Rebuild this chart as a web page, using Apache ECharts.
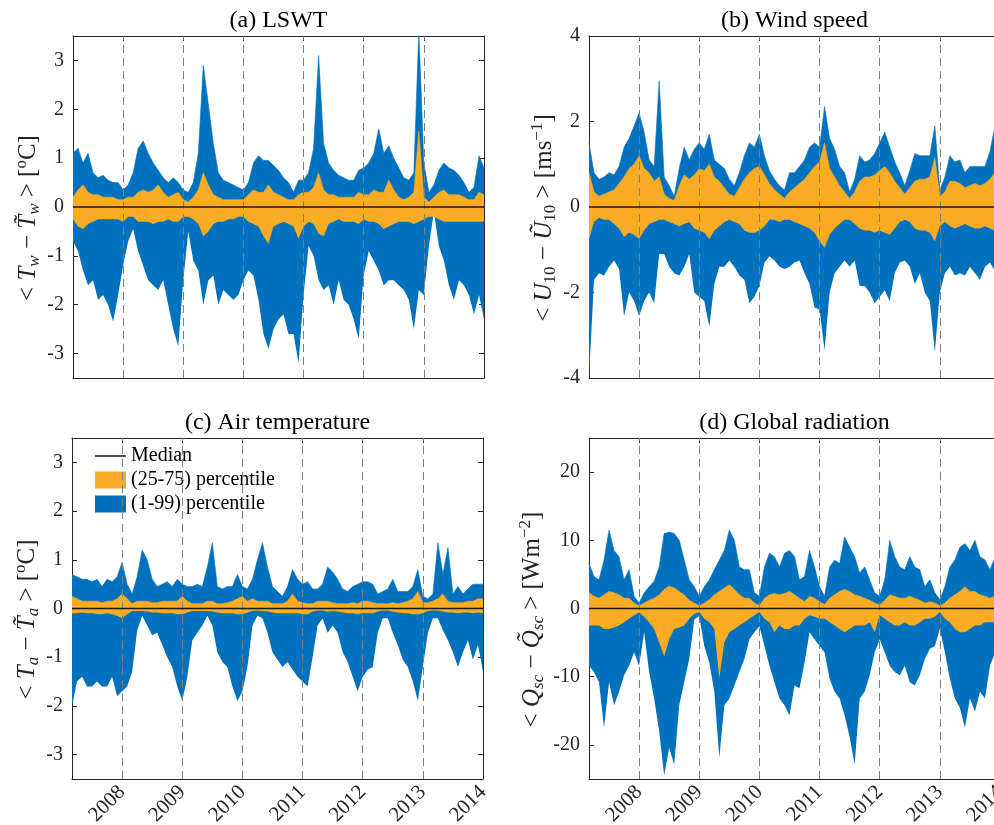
<!DOCTYPE html>
<html>
<head>
<meta charset="utf-8">
<script src="https://cdn.jsdelivr.net/npm/echarts@6/dist/echarts.min.js"></script>
<style>
body { margin: 0; background: #fff; }
#main { width: 994px; height: 825px; }
</style>
</head>
<body>
<div id="main"></div>
<script>
'use strict'
// monthly envelope of the percentile bands

var months = [
    '2007-03', '2007-04', '2007-05', '2007-06', '2007-07', '2007-08', '2007-09', '2007-10', '2007-11', '2007-12',
    '2008-01', '2008-02', '2008-03', '2008-04', '2008-05', '2008-06', '2008-07', '2008-08', '2008-09', '2008-10', '2008-11', '2008-12',
    '2009-01', '2009-02', '2009-03', '2009-04', '2009-05', '2009-06', '2009-07', '2009-08', '2009-09', '2009-10', '2009-11', '2009-12',
    '2010-01', '2010-02', '2010-03', '2010-04', '2010-05', '2010-06', '2010-07', '2010-08', '2010-09', '2010-10', '2010-11', '2010-12',
    '2011-01', '2011-02', '2011-03', '2011-04', '2011-05', '2011-06', '2011-07', '2011-08', '2011-09', '2011-10', '2011-11', '2011-12',
    '2012-01', '2012-02', '2012-03', '2012-04', '2012-05', '2012-06', '2012-07', '2012-08', '2012-09', '2012-10', '2012-11', '2012-12',
    '2013-01', '2013-02', '2013-03', '2013-04', '2013-05', '2013-06', '2013-07', '2013-08', '2013-09', '2013-10', '2013-11', '2013-12',
    '2014-01'
];
var yearLines = ['2008-01', '2009-01', '2010-01', '2011-01', '2012-01', '2013-01'];
var median = 0;

// (a) LSWT
var lswtP99 = [1.1, 1.2, 0.9, 1.1, 0.7, 0.6, 0.65, 0.55, 0.5, 0.5,
    0.35, 0.45, 0.7, 1.2, 1.35, 1.1, 0.9, 0.75, 0.6, 0.5,
    0.6, 0.5, 0.35, 0.3, 0.5, 1.1, 2.9, 2.1, 1.3, 0.7,
    0.55, 0.5, 0.45, 0.4, 0.35, 0.5, 0.9, 1.05, 0.95, 0.95,
    0.85, 0.75, 0.6, 0.5, 0.3, 0.55, 0.55, 0.7, 1.2, 3.1,
    1.3, 0.9, 0.75, 0.65, 0.6, 0.55, 0.55, 0.75, 0.8, 0.9,
    1.1, 1.6, 1.1, 1.25, 1.0, 0.8, 0.6, 0.55, 0.7, 3.6,
    0.9, 0.3, 0.45, 0.75, 0.9, 0.8, 0.75, 0.65, 0.5, 0.3,
    0.4, 1.05, 0.8];
var lswtP1 = [-0.7, -0.9, -1.3, -1.6, -1.5, -1.9, -1.8, -2.0, -2.35, -1.8,
    -1.2, -0.7, -0.45, -0.9, -1.2, -1.5, -1.6, -1.7, -1.5, -2.0,
    -2.5, -2.85, -1.5, -0.5, -1.1, -1.3, -2.0, -1.5, -1.4, -2.0,
    -1.7, -1.8, -1.9, -1.8, -1.5, -1.3, -1.4, -1.9, -2.6, -2.9,
    -2.5, -2.3, -2.2, -2.6, -2.6, -3.2, -1.8, -0.8, -1.0, -1.5,
    -1.7, -1.6, -2.0, -1.5, -1.9, -2.0, -2.3, -2.7, -1.4, -0.9,
    -1.1, -1.3, -1.6, -1.5, -1.5, -1.6, -1.7, -1.9, -2.5, -1.7,
    -1.8, -0.8, -0.1, -0.8, -1.1, -1.6, -1.9, -1.5, -1.6, -1.8,
    -2.2, -1.8, -2.3];
var lswtP75 = [0.2, 0.35, 0.45, 0.3, 0.25, 0.25, 0.2, 0.2, 0.2, 0.15,
    0.15, 0.2, 0.2, 0.3, 0.35, 0.3, 0.35, 0.45, 0.3, 0.2,
    0.25, 0.3, 0.15, 0.1, 0.2, 0.35, 0.7, 0.45, 0.25, 0.2,
    0.15, 0.15, 0.15, 0.15, 0.15, 0.25, 0.35, 0.3, 0.3, 0.45,
    0.3, 0.25, 0.2, 0.15, 0.15, 0.25, 0.3, 0.3, 0.4, 0.7,
    0.35, 0.25, 0.25, 0.2, 0.2, 0.2, 0.2, 0.3, 0.25, 0.25,
    0.35, 0.3, 0.3, 0.55, 0.35, 0.2, 0.15, 0.2, 0.3, 1.55,
    0.2, 0.1, 0.2, 0.3, 0.35, 0.25, 0.25, 0.25, 0.2, 0.15,
    0.15, 0.3, 0.25];
var lswtP25 = [-0.25, -0.4, -0.45, -0.35, -0.3, -0.25, -0.25, -0.25, -0.25, -0.25,
    -0.3, -0.2, -0.2, -0.3, -0.3, -0.3, -0.35, -0.3, -0.3, -0.25,
    -0.3, -0.3, -0.2, -0.2, -0.25, -0.35, -0.6, -0.5, -0.35, -0.3,
    -0.3, -0.25, -0.25, -0.2, -0.2, -0.3, -0.35, -0.4, -0.6, -0.75,
    -0.4, -0.35, -0.3, -0.35, -0.4, -0.65, -0.4, -0.3, -0.35, -0.55,
    -0.6, -0.35, -0.3, -0.25, -0.3, -0.3, -0.3, -0.35, -0.25, -0.3,
    -0.3, -0.35, -0.45, -0.4, -0.35, -0.3, -0.3, -0.3, -0.35, -0.3,
    -0.25, -0.2, -0.2, -0.25, -0.3, -0.3, -0.3, -0.3, -0.3, -0.3,
    -0.3, -0.3, -0.3];

// (b) wind speed
var windP99 = [1.5, 0.8, 0.65, 0.7, 0.8, 0.75, 0.95, 1.4, 1.6, 1.9,
    2.2, 1.75, 1.1, 0.95, 2.95, 0.7, 0.5, 0.25, 0.9, 1.4,
    1.1, 1.35, 1.5, 1.35, 1.7, 1.1, 1.0, 0.9, 0.65, 0.5,
    0.8, 1.2, 1.5, 1.4, 1.7, 1.2, 0.85, 0.65, 0.5, 0.4,
    0.8, 0.8, 0.95, 1.1, 1.4, 1.5, 1.4, 2.35, 1.6, 1.35,
    0.95, 0.8, 0.35, 0.65, 1.2, 1.05, 1.1, 1.25, 1.5, 1.75,
    1.4, 1.05, 0.8, 0.5, 0.85, 1.25, 1.2, 1.2, 1.2, 1.9,
    0.4, 0.7, 1.2, 1.05, 1.1, 0.8, 0.95, 0.95, 0.95, 0.95,
    1.3, 1.9, 1.2];
var windP1 = [-4.0, -1.7, -1.55, -1.6, -1.4, -1.25, -1.45, -2.55, -2.0, -2.2,
    -2.55, -2.2, -2.0, -2.25, -1.1, -1.1, -1.4, -1.55, -1.6, -1.4,
    -1.1, -2.0, -2.1, -2.2, -2.8, -1.8, -1.4, -1.4, -1.25, -1.4,
    -1.6, -1.7, -2.25, -2.1, -1.85, -1.3, -1.15, -1.25, -1.4, -1.45,
    -1.4, -1.3, -1.25, -1.55, -1.8, -2.35, -2.4, -3.35, -2.0, -1.55,
    -1.4, -1.25, -1.4, -1.25, -1.85, -1.85, -2.0, -2.25, -2.1, -1.95,
    -2.2, -1.55, -1.3, -1.25, -1.4, -1.8, -1.55, -2.0, -2.2, -3.4,
    -2.0, -1.55, -1.4, -1.6, -1.55, -1.6, -1.4, -1.55, -1.7, -1.4,
    -1.3, -1.5, -1.4];
var windP75 = [0.8, 0.35, 0.25, 0.3, 0.35, 0.4, 0.55, 0.7, 0.9, 1.0,
    1.2, 0.9, 0.8, 0.6, 0.7, 0.3, 0.2, 0.15, 0.5, 0.75,
    0.65, 0.75, 0.9, 0.85, 1.0, 0.7, 0.6, 0.45, 0.3, 0.25,
    0.45, 0.65, 0.8, 0.9, 0.95, 0.75, 0.55, 0.4, 0.3, 0.2,
    0.35, 0.45, 0.55, 0.65, 0.8, 0.95, 1.05, 1.5, 0.9, 0.7,
    0.5, 0.35, 0.2, 0.35, 0.6, 0.7, 0.7, 0.75, 0.85, 0.95,
    0.8, 0.6, 0.45, 0.3, 0.45, 0.6, 0.65, 0.65, 0.7, 1.15,
    0.25, 0.35, 0.6, 0.6, 0.55, 0.45, 0.5, 0.55, 0.5, 0.55,
    0.65, 0.8, 0.65];
var windP25 = [-0.75, -0.35, -0.25, -0.3, -0.3, -0.4, -0.5, -0.7, -0.6, -0.65,
    -0.75, -0.55, -0.4, -0.35, -0.3, -0.3, -0.35, -0.4, -0.45, -0.4,
    -0.35, -0.5, -0.55, -0.6, -0.75, -0.55, -0.45, -0.35, -0.3, -0.35,
    -0.4, -0.55, -0.6, -0.6, -0.55, -0.45, -0.3, -0.3, -0.35, -0.3,
    -0.3, -0.35, -0.4, -0.45, -0.5, -0.6, -0.8, -0.95, -0.65, -0.5,
    -0.4, -0.3, -0.3, -0.4, -0.5, -0.55, -0.55, -0.6, -0.55, -0.6,
    -0.65, -0.5, -0.35, -0.3, -0.35, -0.5, -0.55, -0.55, -0.6, -0.8,
    -0.45, -0.35, -0.45, -0.5, -0.45, -0.4, -0.45, -0.5, -0.5, -0.45,
    -0.5, -0.55, -0.5];

// (c) air temperature
var airP99 = [0.7, 0.65, 0.6, 0.6, 0.55, 0.6, 0.45, 0.6, 0.55, 0.65,
    0.95, 0.5, 0.3, 0.65, 1.2, 1.0, 0.6, 0.45, 0.5, 0.55,
    0.45, 0.6, 0.5, 0.45, 0.45, 0.5, 0.45, 0.85, 1.35, 0.45,
    0.4, 0.45, 0.45, 0.7, 0.45, 0.4, 0.6, 1.0, 1.35, 0.85,
    0.45, 0.35, 0.25, 0.45, 0.8, 0.6, 0.5, 0.55, 0.4, 0.4,
    0.5, 0.85, 0.75, 0.6, 0.4, 0.35, 0.45, 0.5, 0.55, 0.55,
    0.5, 0.3, 0.35, 0.4, 0.6, 0.35, 0.35, 0.35, 0.45, 0.8,
    0.25, 0.2, 0.3, 1.35, 0.7, 1.25, 0.3, 0.45, 0.3, 0.4,
    0.5, 0.5, 0.5];
var airP1 = [-2.0, -1.5, -1.4, -1.6, -1.6, -1.5, -1.6, -1.6, -1.4, -1.8,
    -1.7, -1.6, -1.3, -0.45, -0.15, -0.35, -0.55, -0.5, -0.75, -1.0,
    -1.2, -1.6, -1.9, -1.4, -0.65, -0.5, -0.35, -0.15, -0.35, -0.9,
    -1.1, -1.2, -1.6, -1.9, -1.7, -1.2, -0.35, -0.15, -0.2, -0.5,
    -0.9, -1.05, -1.2, -1.1, -1.25, -1.4, -1.5, -1.6, -1.0, -0.35,
    -0.2, -0.5, -0.35, -0.5, -0.9, -1.1, -1.4, -1.7, -1.4, -1.25,
    -1.2, -0.5, -0.2, -0.2, -0.5, -0.75, -1.05, -1.2, -1.5, -1.9,
    -1.2, -0.5, -0.2, -0.2, -0.45, -0.65, -0.9, -1.2, -0.9, -0.65,
    -1.05, -0.75, -1.3];
var airP75 = [0.25, 0.2, 0.15, 0.15, 0.15, 0.15, 0.12, 0.15, 0.15, 0.2,
    0.3, 0.2, 0.1, 0.15, 0.15, 0.15, 0.12, 0.12, 0.15, 0.15,
    0.15, 0.15, 0.25, 0.15, 0.1, 0.1, 0.1, 0.15, 0.15, 0.1,
    0.1, 0.12, 0.15, 0.2, 0.25, 0.15, 0.2, 0.15, 0.15, 0.15,
    0.1, 0.1, 0.1, 0.15, 0.3, 0.15, 0.12, 0.1, 0.1, 0.15,
    0.15, 0.15, 0.12, 0.1, 0.1, 0.1, 0.12, 0.1, 0.15, 0.15,
    0.12, 0.1, 0.1, 0.1, 0.12, 0.1, 0.12, 0.15, 0.2, 0.35,
    0.12, 0.12, 0.15, 0.2, 0.3, 0.15, 0.12, 0.12, 0.12, 0.15,
    0.15, 0.2, 0.2];
var airP25 = [-0.1, -0.1, -0.08, -0.1, -0.1, -0.12, -0.12, -0.1, -0.12, -0.15,
    -0.2, -0.12, -0.05, -0.05, -0.05, -0.06, -0.08, -0.08, -0.1, -0.1,
    -0.1, -0.12, -0.12, -0.08, -0.05, -0.05, -0.05, -0.05, -0.06, -0.08,
    -0.1, -0.1, -0.1, -0.12, -0.12, -0.08, -0.05, -0.04, -0.05, -0.06,
    -0.08, -0.1, -0.1, -0.1, -0.1, -0.1, -0.12, -0.12, -0.06, -0.04,
    -0.04, -0.06, -0.05, -0.06, -0.08, -0.1, -0.1, -0.12, -0.1, -0.1,
    -0.1, -0.06, -0.04, -0.04, -0.06, -0.08, -0.1, -0.1, -0.12, -0.12,
    -0.1, -0.05, -0.04, -0.04, -0.06, -0.08, -0.08, -0.1, -0.08, -0.08,
    -0.1, -0.08, -0.1];

// (d) global radiation
var radP99 = [6.6, 4.7, 4.2, 7.1, 11.5, 8.5, 7.6, 4.2, 5.7, 1.8,
    0.8, 2.3, 3.2, 4.0, 6.1, 11.0, 11.2, 11.0, 10.0, 7.1,
    4.2, 3.2, 1.8, 3.2, 4.2, 5.7, 7.1, 8.5, 11.5, 10.0,
    6.1, 5.7, 5.7, 2.3, 1.8, 6.1, 8.1, 7.6, 6.1, 8.1,
    8.5, 7.6, 4.2, 4.7, 8.5, 6.1, 3.2, 1.8, 6.1, 7.1,
    6.6, 10.5, 9.0, 7.6, 5.2, 6.1, 4.2, 2.3, 1.8, 4.2,
    10.0, 7.6, 6.1, 5.7, 7.6, 6.1, 5.7, 3.2, 4.2, 2.3,
    1.3, 3.2, 6.1, 7.1, 9.0, 9.5, 8.5, 10.0, 7.6, 7.1,
    5.7, 7.5, 5.5];
var radP1 = [-8.4, -9.3, -10.8, -17.5, -10.8, -14.2, -12.2, -9.8, -8.4, -6.4,
    -8.4, -3.5, -9.3, -13.2, -18.0, -24.5, -20.4, -22.9, -14.2, -10.8,
    -7.4, -1.6, -1.1, -5.5, -7.9, -12.2, -21.9, -14.2, -13.2, -11.3,
    -9.3, -7.4, -4.5, -3.5, -2.6, -5.5, -8.4, -10.8, -13.2, -14.2,
    -15.7, -11.3, -11.7, -7.9, -3.5, -4.5, -5.5, -6.4, -10.3, -12.2,
    -13.2, -15.7, -18.8, -22.9, -13.2, -12.2, -9.8, -6.4, -4.5, -6.4,
    -8.4, -9.3, -9.8, -8.4, -10.8, -11.3, -9.8, -7.4, -5.9, -5.5,
    -3.0, -6.4, -10.3, -13.2, -14.6, -17.5, -13.2, -15.1, -12.2, -13.2,
    -8.4, -6.5, -5.5];
var radP75 = [2.3, 1.8, 1.5, 2.0, 2.5, 2.3, 2.0, 1.5, 1.5, 0.8,
    0.4, 0.8, 1.2, 1.5, 2.0, 2.8, 3.3, 3.0, 2.5, 2.0,
    1.2, 0.8, 0.4, 0.8, 1.3, 2.0, 2.5, 3.0, 3.5, 2.8,
    2.0, 1.5, 1.5, 0.8, 0.4, 1.5, 2.0, 2.2, 2.0, 2.2,
    2.5, 2.0, 1.5, 1.0, 1.8, 1.5, 1.0, 0.6, 1.5, 2.0,
    2.5, 2.8, 2.5, 2.0, 1.8, 1.5, 1.2, 0.8, 0.5, 1.2,
    2.0, 1.8, 1.5, 1.5, 1.8, 1.5, 1.2, 0.8, 1.0, 0.8,
    0.4, 0.8, 1.5, 2.0, 2.5, 3.2, 2.5, 2.5, 2.0, 1.8,
    1.5, 1.8, 1.5];
var radP25 = [-2.5, -2.5, -2.5, -3.0, -3.0, -2.8, -2.5, -2.0, -1.5, -1.0,
    -0.6, -1.2, -2.0, -3.0, -5.0, -7.0, -4.5, -3.0, -2.8, -2.5,
    -1.5, -0.8, -0.5, -1.5, -2.0, -3.0, -10.2, -5.0, -3.5, -3.0,
    -2.5, -2.0, -1.5, -1.0, -0.5, -1.5, -2.0, -3.5, -2.5, -3.0,
    -3.0, -2.5, -2.5, -1.5, -1.0, -1.2, -1.5, -1.5, -2.0, -2.5,
    -3.0, -3.5, -3.0, -2.5, -2.5, -2.5, -2.0, -3.5, -1.0, -1.5,
    -2.0, -2.5, -2.5, -2.0, -2.5, -2.5, -2.0, -1.5, -1.5, -1.2,
    -0.5, -1.5, -2.0, -3.0, -3.5, -3.5, -3.0, -2.5, -2.5, -2.0,
    -2.0, -2.0, -2.0];

var blue = '#0072BD';
var orange = '#F9AC24';
var axisColor = '#262626';
var font = '"Liberation Serif", "Times New Roman", serif';

// only January gets a tick and a year label
function isJanuary(index, value) {
    return value.slice(5) === '01';
}

var rich = {
    t: { fontFamily: font, fontSize: 25, color: axisColor, lineHeight: 30 },
    i: { fontFamily: font, fontSize: 25, fontStyle: 'italic', color: axisColor, lineHeight: 30 },
    s: { fontFamily: font, fontSize: 17, fontStyle: 'italic', color: axisColor, verticalAlign: 'bottom', lineHeight: 21 },
    n: { fontFamily: font, fontSize: 17, color: axisColor, verticalAlign: 'bottom', lineHeight: 21 },
    p: { fontFamily: font, fontSize: 17, color: axisColor, verticalAlign: 'top', lineHeight: 19 }
};

var panels = [
    { title: '(a) LSWT', p1: lswtP1, p25: lswtP25, p75: lswtP75, p99: lswtP99,
      name: '{t|< }{i|T}{s|w}{t| \u2212 }{i|T\u0303}{s|w}{t| > [}{p|o}{t|C]}',
      min: -3.5, max: 3.5, ticks: [-3, -2, -1, 0, 1, 2, 3],
      left: 73, top: 36, height: 342, nameGap: 29, labels: false },
    { title: '(b) Wind speed', p1: windP1, p25: windP25, p75: windP75, p99: windP99,
      name: '{t|< }{i|U}{n|10}{t| \u2212 }{i|U\u0303}{n|10}{t| > [ms}{p|\u22121}{t|]}',
      min: -4, max: 4, ticks: [-4, -2, 0, 2, 4],
      left: 589, top: 36, height: 342, nameGap: 29, labels: false },
    { title: '(c) Air temperature', p1: airP1, p25: airP25, p75: airP75, p99: airP99,
      name: '{t|< }{i|T}{s|a}{t| \u2212 }{i|T\u0303}{s|a}{t| > [}{p|o}{t|C]}',
      min: -3.5, max: 3.5, ticks: [-3, -2, -1, 0, 1, 2, 3],
      left: 72, top: 438, height: 341, nameGap: 29, labels: true },
    { title: '(d) Global radiation', p1: radP1, p25: radP25, p75: radP75, p99: radP99,
      name: '{t|< }{i|Q}{s|sc}{t| \u2212 }{i|Q\u0303}{s|sc}{t| > [Wm}{p|\u22122}{t|]}',
      min: -25, max: 25, ticks: [-20, -10, 0, 10, 20],
      left: 589, top: 438, height: 341, nameGap: 42, labels: true }
];

function band(i, lo, hi, color, name) {
    var diff = hi.map(function (v, k) { return +(v - lo[k]).toFixed(3); });
    return [
        {
            type: 'line', xAxisIndex: i, yAxisIndex: i, stack: 'band' + name + i, stackStrategy: 'all',
            data: lo, symbol: 'none', silent: true,
            lineStyle: { opacity: 0 }
        },
        {
            name: name, type: 'line', xAxisIndex: i, yAxisIndex: i, stack: 'band' + name + i, stackStrategy: 'all',
            data: diff, symbol: 'none', silent: true,
            itemStyle: { color: color },
            lineStyle: { width: 0.6, color: color },
            areaStyle: { color: color, opacity: 1 }
        }
    ];
}

var grids = [], xAxes = [], yAxes = [], series = [], titles = [];

panels.forEach(function (p, i) {
    grids.push({ left: p.left, top: p.top, width: 411, height: p.height, outerBoundsMode: 'none', containLabel: false });
    titles.push({
        text: p.title, left: p.left + 205.5, top: p.top - 27, textAlign: 'center', padding: 0,
        textStyle: { fontFamily: font, fontSize: 24, fontWeight: 'normal', color: '#000' }
    });
    xAxes.push({
        type: 'category', gridIndex: i, data: months, boundaryGap: false,
        axisLine: { onZero: false, lineStyle: { color: axisColor } },
        axisTick: { inside: true, length: 5, interval: isJanuary, lineStyle: { color: axisColor } },
        axisLabel: {
            show: p.labels, interval: isJanuary, rotate: 45, margin: 10,
            fontFamily: font, fontSize: 21, color: axisColor,
            formatter: function (v) { return v.slice(0, 4); }
        },
        splitLine: { show: false }
    });
    yAxes.push({
        type: 'value', gridIndex: i, min: p.min, max: p.max,
        axisLine: { show: true, onZero: false, lineStyle: { color: axisColor } },
        axisTick: { show: true, inside: true, length: 5, customValues: p.ticks, lineStyle: { color: axisColor } },
        axisLabel: { customValues: p.ticks, margin: 9, fontFamily: font, fontSize: 20, color: axisColor },
        splitLine: { show: false },
        name: p.name, nameLocation: 'middle', nameRotate: 90, nameGap: p.nameGap,
        nameTextStyle: { rich: rich, padding: [0, 22, 0, 0] }
    });

    series = series.concat(band(i, p.p1, p.p99, blue, '(1-99) percentile'));
    series = series.concat(band(i, p.p25, p.p75, orange, '(25-75) percentile'));
    series.push({
        name: 'Median', type: 'line', xAxisIndex: i, yAxisIndex: i,
        data: months.map(function () { return median; }),
        symbol: 'none', silent: true, color: '#1a1a1a',
        lineStyle: { color: '#1a1a1a', width: 1.5 },
        markLine: {
            silent: true, symbol: ['none', 'none'], label: { show: false },
            lineStyle: { type: [8, 5], color: '#7f7f7f', width: 1 },
            data: yearLines.map(function (m) { return { xAxis: m }; })
        },
        z: 5
    });
});

// box: top and right axes with inward ticks
panels.forEach(function (p, i) {
    xAxes.push({
        type: 'category', gridIndex: i, position: 'top', data: months, boundaryGap: false,
        axisLine: { onZero: false, lineStyle: { color: axisColor } },
        axisTick: { inside: true, length: 5, interval: isJanuary, lineStyle: { color: axisColor } },
        axisLabel: { show: false }, splitLine: { show: false }
    });
    yAxes.push({
        type: 'value', gridIndex: i, position: 'right', min: p.min, max: p.max,
        axisLine: { show: true, onZero: false, lineStyle: { color: axisColor } },
        axisTick: { show: true, inside: true, length: 5, customValues: p.ticks, lineStyle: { color: axisColor } },
        axisLabel: { show: false }, splitLine: { show: false }
    });
});

var option = {
    animation: false,
    backgroundColor: '#fff',
    title: titles,
    legend: {
        data: [
            { name: 'Median', icon: 'path://M0,0H62V3H0Z' },
            { name: '(25-75) percentile', icon: 'rect' },
            { name: '(1-99) percentile', icon: 'rect' }
        ],
        orient: 'vertical', left: 95, top: 446, padding: 0,
        itemWidth: 31, itemHeight: 17, itemGap: 4, selectedMode: false,
        textStyle: { fontFamily: font, fontSize: 20, lineHeight: 20, color: '#000' }
    },
    grid: grids,
    xAxis: xAxes,
    yAxis: yAxes,
    series: series
};

var myChart = echarts.init(document.getElementById('main'));
myChart.setOption(option);
</script>
</body>
</html>
